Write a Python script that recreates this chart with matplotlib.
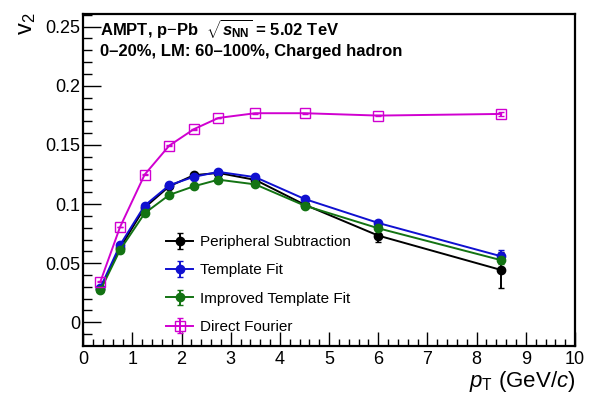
import matplotlib
matplotlib.use("Agg")
import matplotlib.pyplot as plt
from matplotlib.ticker import MultipleLocator

# ---------- data ----------
pt = [0.35, 0.75, 1.25, 1.75, 2.25, 2.75, 3.5, 4.5, 6.0, 8.5]

v2_periph     = [0.028, 0.063, 0.097, 0.115, 0.1244, 0.1263, 0.1204, 0.0995, 0.0733, 0.0442]
v2_periph_err = [0.001, 0.001, 0.001, 0.001, 0.001, 0.001, 0.0012, 0.0015, 0.0055, 0.015]

v2_template     = [0.0293, 0.0654, 0.0987, 0.1159, 0.123, 0.1272, 0.1227, 0.1043, 0.0840, 0.0558]
v2_template_err = [0.0005, 0.0005, 0.0005, 0.0005, 0.0005, 0.0005, 0.0006, 0.0008, 0.0015, 0.005]

v2_improved     = [0.027, 0.0612, 0.0922, 0.1077, 0.115, 0.1206, 0.1166, 0.0987, 0.0795, 0.0525]
v2_improved_err = [0.0005, 0.0005, 0.0005, 0.0005, 0.0005, 0.0005, 0.0006, 0.0008, 0.0015, 0.003]

v2_fourier     = [0.0344, 0.0806, 0.1249, 0.1494, 0.1633, 0.1728, 0.1768, 0.1768, 0.1748, 0.1762]
v2_fourier_err = [0.0003, 0.0003, 0.0003, 0.0003, 0.0003, 0.0003, 0.0003, 0.0004, 0.0006, 0.002]

labels = ["Peripheral Subtraction", "Template Fit", "Improved Template Fit", "Direct Fourier"]
# ---------------------------------------------------

plt.rcParams['font.family'] = ['Liberation Sans', 'DejaVu Sans']
plt.rcParams['mathtext.fontset'] = 'custom'
plt.rcParams['mathtext.rm'] = 'Liberation Sans'
plt.rcParams['mathtext.it'] = 'Liberation Sans:italic'
plt.rcParams['mathtext.bf'] = 'Liberation Sans:bold'
plt.rcParams['mathtext.bfit'] = 'Liberation Sans:italic:bold'

fig = plt.figure(figsize=(5.9, 3.99), dpi=100)
ax = fig.add_axes([0.141, 0.1336, 0.8336, 0.8313])

series = [
    (v2_periph, v2_periph_err, 'black', 'o', 'black'),
    (v2_template, v2_template_err, '#1010d0', 'o', '#1010d0'),
    (v2_improved, v2_improved_err, '#137313', 'o', '#137313'),
    (v2_fourier, v2_fourier_err, '#d000d0', 's', 'none'),
]
for (y, e, c, m, fc), lab in zip(series, labels):
    ax.errorbar(pt, y, yerr=e, color=c, marker=m, markersize=6 if m == 'o' else 6.5,
                markerfacecolor=fc, markeredgecolor=c, markeredgewidth=1.0,
                linewidth=1.4, elinewidth=1.4, capsize=2.2, capthick=1.2, label=lab)

ax.set_xlim(0, 10)
ax.set_ylim(-0.0198, 0.2607)
ax.xaxis.set_major_locator(MultipleLocator(1))
ax.xaxis.set_minor_locator(MultipleLocator(0.2))
ax.yaxis.set_major_locator(MultipleLocator(0.05))
ax.yaxis.set_minor_locator(MultipleLocator(0.01))
ax.set_yticks([0, 0.05, 0.1, 0.15, 0.2, 0.25])
ax.set_yticklabels(['0', '0.05', '0.1', '0.15', '0.2', '0.25'])

ax.tick_params(axis='both', which='both', direction='in', labelsize=13, width=1.0)
ax.tick_params(axis='y', which='major', length=13, pad=2)
ax.tick_params(axis='y', which='minor', length=6.5)
ax.tick_params(axis='x', which='major', length=10, pad=4)
ax.tick_params(axis='x', which='minor', length=5)
for s in ax.spines.values():
    s.set_linewidth(1.6)

fig.text(0.046, 0.968, r'v$_2$', rotation=90, ha='center', va='top', fontsize=17)
fig.text(0.975, 0.044, r'$p_{\mathrm{T}}$ (GeV/$c$)', ha='right', va='center', fontsize=16)

ax.text(0.035, 0.955, r'AMPT, p$-$Pb  $\sqrt{\mathbfit{s}_{\mathbf{NN}}}$ = 5.02 TeV',
        transform=ax.transAxes, ha='left', va='center', fontsize=12, fontweight='bold')
ax.text(0.035, 0.887, '0–20%, LM: 60–100%, Charged hadron',
        transform=ax.transAxes, ha='left', va='center', fontsize=12, fontweight='bold')

ax.legend(loc='upper left', bbox_to_anchor=(0.168, 0.333), frameon=False,
          fontsize=11, handlelength=1.8, handletextpad=0.45, labelspacing=0.93,
          borderpad=0, borderaxespad=0)

fig.savefig('out.png', dpi=100)
